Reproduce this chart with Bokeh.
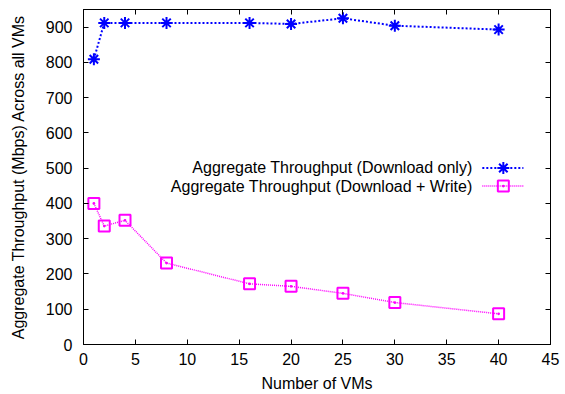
from bokeh.plotting import figure
from bokeh.models import Range1d, FixedTicker, LinearAxis
from bokeh.core.properties import value
from bokeh.embed import file_html
from bokeh.resources import INLINE

# ---- data ----
vms = [1, 2, 4, 8, 16, 20, 25, 30, 40]
download_only = [809, 912, 912, 912, 912, 909, 925, 904, 893]
download_write = [400, 336, 352, 231, 172, 165, 145, 119, 87]
series_labels = ["Aggregate Throughput (Download only)",
                 "Aggregate Throughput (Download + Write)"]
x_ticks = [0, 5, 10, 15, 20, 25, 30, 35, 40, 45]
y_ticks = [0, 100, 200, 300, 400, 500, 600, 700, 800, 900]
x_label = "Number of VMs"
y_label = "Aggregate Throughput (Mbps) Across all VMs"

FONT = "Liberation Sans"
BLUE = "#0000ff"
MAGENTA = "#ff00ff"

p = figure(width=565, height=394, output_backend="svg", toolbar_location=None,
           x_range=Range1d(0, 45), y_range=Range1d(0, 950),
           min_border_left=83, min_border_right=15, min_border_top=9,
           min_border_bottom=49)
p.extra_x_ranges = {"leg": Range1d(0, 1)}
p.extra_y_ranges = {"leg": Range1d(0, 1)}
p.xgrid.visible = False
p.ygrid.visible = False
p.outline_line_color = "black"
p.outline_line_width = 1
p.background_fill_color = "white"
p.border_fill_color = "white"


def style_axis(ax, ticks, show_labels):
    ax.ticker = FixedTicker(ticks=ticks)
    ax.minor_tick_line_color = None
    ax.major_tick_in = 5
    ax.major_tick_out = 0
    ax.major_tick_line_color = "black"
    ax.axis_line_color = "black"
    ax.major_label_text_font = FONT
    ax.major_label_text_color = "black"
    ax.major_label_text_font_size = "16px"
    ax.axis_label_text_font = FONT
    ax.axis_label_text_font_style = "normal"
    ax.axis_label_text_font_size = "16px"
    ax.axis_label_text_color = "black"
    if not show_labels:
        ax.major_label_overrides = {t: "" for t in ticks}
        ax.major_label_text_color = None
        ax.major_label_standoff = 0


style_axis(p.xaxis[0], x_ticks, True)
style_axis(p.yaxis[0], y_ticks, True)
p.xaxis[0].axis_label = x_label
p.yaxis[0].axis_label = y_label
p.xaxis[0].major_label_standoff = 8
p.xaxis[0].axis_label_standoff = 7
p.yaxis[0].major_label_standoff = 11
p.yaxis[0].axis_label_standoff = 16

top_ax = LinearAxis()
right_ax = LinearAxis()
style_axis(top_ax, x_ticks, False)
style_axis(right_ax, y_ticks, False)
p.add_layout(top_ax, "above")
p.add_layout(right_ax, "right")

# series 1
p.line(vms, download_only, line_color=BLUE, line_width=2, line_dash="2 2")
p.scatter(vms, download_only, marker="asterisk", size=12, line_color=BLUE,
          line_width=2)
# series 2
p.line(vms, download_write, line_color=MAGENTA, line_width=1.5, line_dash="1 1")
p.scatter(vms, download_write, marker="square_dot", size=11, line_color=MAGENTA,
          fill_color=None, line_width=2)

# gnuplot-style key (text right, sample on the right), frame-normalised coords
rows = [0.527, 0.473]
p.text(x=[0.833, 0.833], y=rows, text=series_labels,
       x_range_name="leg", y_range_name="leg",
       text_align="right", text_baseline="middle",
       text_font=value(FONT), text_font_size="16px", text_color="black")
p.line([0.854, 0.942], [rows[0], rows[0]], x_range_name="leg", y_range_name="leg",
       line_color=BLUE, line_width=2, line_dash="2 2")
p.scatter([0.899], [rows[0]], x_range_name="leg", y_range_name="leg",
          marker="asterisk", size=12, line_color=BLUE, line_width=2)
p.line([0.854, 0.942], [rows[1], rows[1]], x_range_name="leg", y_range_name="leg",
       line_color=MAGENTA, line_width=1.5, line_dash="1 1")
p.scatter([0.899], [rows[1]], x_range_name="leg", y_range_name="leg",
          marker="square_dot", size=11, line_color=MAGENTA, fill_color=None,
          line_width=2)

open("out.html", "w").write(file_html(p, INLINE))
